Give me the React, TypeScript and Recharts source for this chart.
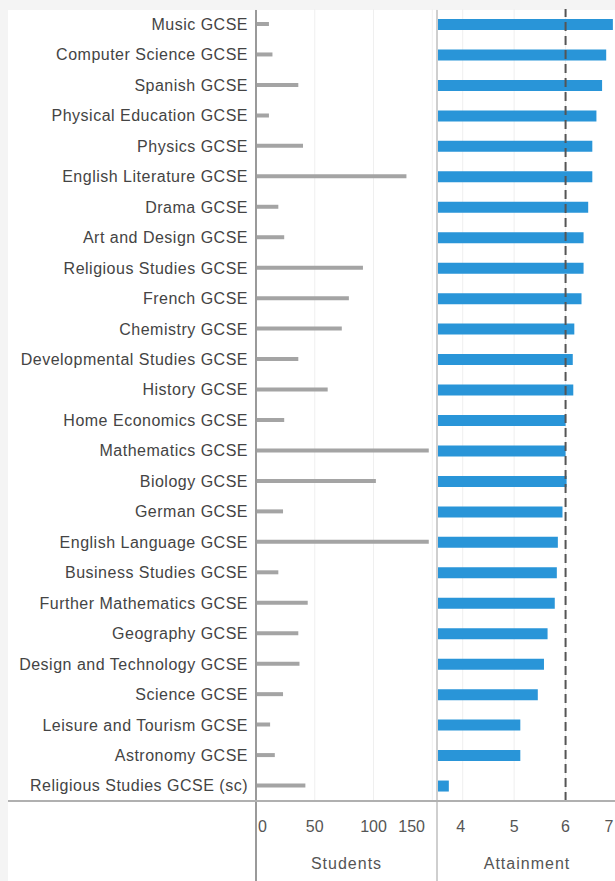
import { Bar, BarChart, CartesianGrid, ReferenceLine, XAxis, YAxis } from "recharts";

const subjects = [
  "Music GCSE",
  "Computer Science GCSE",
  "Spanish GCSE",
  "Physical Education GCSE",
  "Physics GCSE",
  "English Literature GCSE",
  "Drama GCSE",
  "Art and Design GCSE",
  "Religious Studies GCSE",
  "French GCSE",
  "Chemistry GCSE",
  "Developmental Studies GCSE",
  "History GCSE",
  "Home Economics GCSE",
  "Mathematics GCSE",
  "Biology GCSE",
  "German GCSE",
  "English Language GCSE",
  "Business Studies GCSE",
  "Further Mathematics GCSE",
  "Geography GCSE",
  "Design and Technology GCSE",
  "Science GCSE",
  "Leisure and Tourism GCSE",
  "Astronomy GCSE",
  "Religious Studies GCSE (sc)",
];

const students = [11, 14, 36, 11, 40, 128, 19, 24, 91, 79, 73, 36, 61, 24, 147, 102, 23, 147, 19, 44, 36, 37, 23, 12, 16, 42];

const attainment = [
  6.92, 6.79, 6.71, 6.6, 6.52, 6.52, 6.44, 6.35, 6.35, 6.31, 6.17, 6.14, 6.15, 6.0, 6.0, 6.02, 5.94, 5.85, 5.83,
  5.79, 5.65, 5.58, 5.46, 5.12, 5.12, 3.73,
];

const studentTicks = [0, 50, 100, 150];
const attainmentTicks = [4, 5, 6, 7];
const target = 6;

const data = subjects.map((subject, i) => ({
  subject,
  students: students[i],
  attainment: attainment[i],
}));

const FONT = "'Liberation Sans', Arial, sans-serif";
const PLOT_H = 792;
const AXIS_H = 80;

// keep the end labels inside their panel
const StudentTick = (props: any) => {
  const { x, y, payload } = props;
  const v = payload.value;
  const anchor = v === 0 ? "start" : v === 150 ? "end" : "middle";
  const dx = v === 0 ? 2 : 0;
  return (
    <text x={x + dx} y={y} dy="0.71em" textAnchor={anchor} fill="#555" fontSize={16} fontFamily={FONT}>
      {v}
    </text>
  );
};

const AttainmentTick = (props: any) => {
  const { x, y, payload } = props;
  const v = payload.value;
  const dx = v === 7 ? -4 : v === 4 ? -2 : 0;
  return (
    <text x={x + dx} y={y} dy="0.71em" textAnchor="middle" fill="#555" fontSize={16} fontFamily={FONT}>
      {v}
    </text>
  );
};

export default function App() {
  return (
    <div
      style={{
        position: "fixed",
        left: 0,
        top: 0,
        width: 615,
        height: 881,
        overflow: "hidden",
        background: "#f4f4f4",
        fontFamily: FONT,
      }}
    >
      <div style={{ position: "absolute", left: 8, top: 10, width: 620, height: 880, background: "#fff" }} />

      <div style={{ position: "absolute", left: 8, top: 9 }}>
        <BarChart
          layout="vertical"
          width={429}
          height={PLOT_H + AXIS_H}
          data={data}
          margin={{ top: 0, right: 0, bottom: 0, left: 0 }}
        >
          <CartesianGrid horizontal={false} stroke="#efefef" />
          <XAxis
            type="number"
            dataKey="students"
            domain={[0, 154]}
            ticks={studentTicks}
            height={AXIS_H}
            axisLine={false}
            tickLine={false}
            tickSize={0}
            tickMargin={20}
            tick={<StudentTick />}
            label={{ value: "Students", position: "insideBottom", offset: 12, fill: "#555", fontSize: 16, letterSpacing: 1 }}
          />
          <YAxis
            type="category"
            dataKey="subject"
            width={248}
            interval={0}
            axisLine={false}
            tickLine={false}
            tickSize={6}
            tick={{ fill: "#444", fontSize: 16, fontFamily: FONT, letterSpacing: 0.5 }}
          />
          <Bar dataKey="students" fill="#a4a4a4" barSize={4} isAnimationActive={false} />
        </BarChart>
      </div>

      <div style={{ position: "absolute", left: 437, top: 9 }}>
        <BarChart
          layout="vertical"
          width={180}
          height={PLOT_H + AXIS_H}
          data={data}
          margin={{ top: 0, right: 0, bottom: 0, left: 0 }}
        >
          <CartesianGrid horizontal={false} stroke="#efefef" />
          <XAxis
            type="number"
            dataKey="attainment"
            domain={[3.5, 7]}
            ticks={attainmentTicks}
            height={AXIS_H}
            axisLine={false}
            tickLine={false}
            tickSize={0}
            tickMargin={20}
            tick={<AttainmentTick />}
            label={{ value: "Attainment", position: "insideBottom", offset: 12, fill: "#555", fontSize: 16, letterSpacing: 1 }}
          />
          <YAxis type="category" dataKey="subject" hide />
          <Bar dataKey="attainment" fill="#2995d8" barSize={11} isAnimationActive={false} />
          <ReferenceLine x={target} stroke="#555" strokeWidth={2} strokeDasharray="9 5" />
        </BarChart>
      </div>

      {/* panel dividers */}
      <div style={{ position: "absolute", left: 255, top: 10, width: 2, height: 871, background: "#9a9a9a" }} />
      <div style={{ position: "absolute", left: 436, top: 10, width: 2, height: 871, background: "#cfcfcf" }} />
      <div style={{ position: "absolute", left: 8, top: 800, width: 607, height: 2, background: "#b0b0b0" }} />
    </div>
  );
}
